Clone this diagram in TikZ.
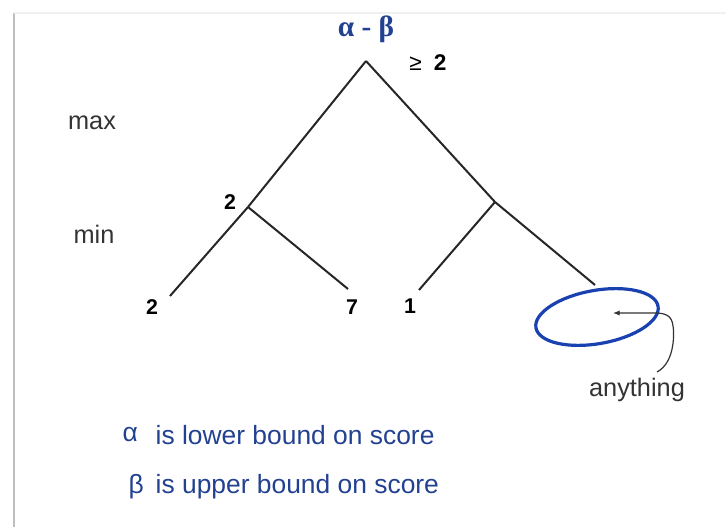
\documentclass[tikz,border=0pt]{standalone}
\usepackage{fontspec}
\setmainfont{Liberation Sans}
\newfontfamily\greekserif{Liberation Serif}
\usetikzlibrary{arrows.meta,shapes.geometric}
\definecolor{boundblue}{RGB}{35,65,145}
\definecolor{ringblue}{RGB}{25,65,175}
\definecolor{framegray}{RGB}{190,190,190}
\tikzset{
  edge/.style={line width=1.5pt,black!85},
  plylabel/.style={font=\fontsize{19}{22}\selectfont,text=black!80},
  value/.style={font=\fontsize{16}{19}\selectfont\bfseries},
  legend/.style={font=\fontsize{19.8}{23}\selectfont,text=boundblue,anchor=west}
}

\begin{document}
\begin{tikzpicture}[x=0.75pt,y=-0.75pt,>=Latex]
  \useasboundingbox (0,0) rectangle (726,527);
  % faint frame
  \draw[framegray,line width=1.2pt] (14,13) -- (14,527);
  \draw[black!6,line width=0.8pt] (14,13) -- (726,13);

  \node[font=\greekserif\fontsize{22}{26}\selectfont\bfseries,text=boundblue] (title) at (366,29) {α - β};

  % tree
  \coordinate (root) at (366,61);
  \coordinate (minL) at (248,207);
  \coordinate (minR) at (495,202);
  \coordinate (leafA) at (170,296);
  \coordinate (leafB) at (348,289);
  \coordinate (leafC) at (419,290);
  \coordinate (leafD) at (595,285);
  \draw[edge] (root) -- (minL);
  \draw[edge] (root) -- (minR);
  \draw[edge] (minL) -- (leafA);
  \draw[edge] (minL) -- (leafB);
  \draw[edge] (minR) -- (leafC);
  \draw[edge] (minR) -- (leafD);

  \node[font=\fontsize{17}{20}\selectfont] (geq) at (428,63) {≥\hspace{9pt}\textbf{2}};
  \node[plylabel] (max) at (92,123) {max};
  \node[plylabel] (min) at (94,234) {min};
  \node[value] (valL) at (230,202) {2};
  \node[value] (valA) at (152,307) {2};
  \node[value] (valB) at (352,307) {7};
  \node[value] (valC) at (410,306) {1};

  % pruned leaf
  \node[draw=ringblue,line width=2.4pt,ellipse,minimum width=93pt,minimum height=40pt,rotate=10] (ring) at (597,317) {};
  \node[plylabel] (anyth) at (637,390) {anything};
  \coordinate (cstart) at (657,372);
  \coordinate (ctip) at (613,313);
  \draw[->,line width=0.9pt,black!80,>={Latex[length=5pt,width=4pt]}]
    (cstart) .. controls (676,362) and (674,330) .. (673,326)
    .. controls (672,316) and (666,313) .. (655,313) -- (ctip);

  % legend
  \node[legend] (alpha) at (118,435) {α};
  \node[legend] (alphatext) at (151,435) {is lower bound on score};
  \node[legend] (beta) at (124,487) {β};
  \node[legend] (betatext) at (151,487) {is upper bound on score};
\end{tikzpicture}
\end{document}
